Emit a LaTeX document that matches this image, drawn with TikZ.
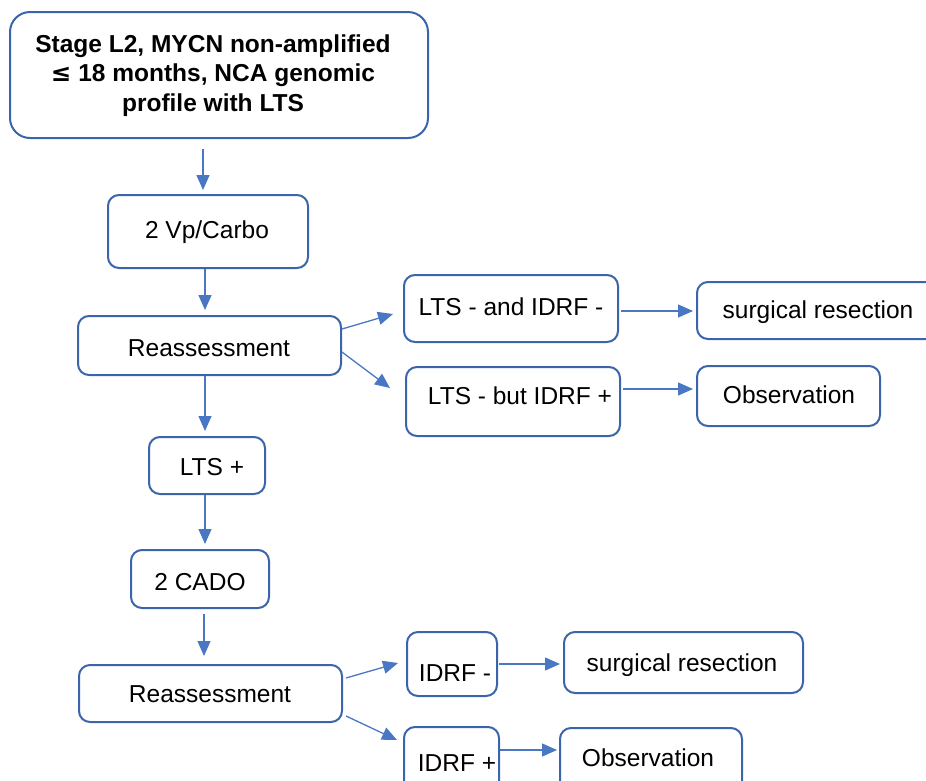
\documentclass[tikz,border=0pt]{standalone}
\usepackage{fontspec}
\setmainfont{Liberation Sans}
\newfontfamily\symfont{DejaVu Sans}
\usetikzlibrary{arrows.meta,calc}
\definecolor{boxblue}{HTML}{3B64AA}
\definecolor{arrblue}{HTML}{4A77C4}
\begin{document}
\begin{tikzpicture}[x=1pt,y=-1pt,
  box/.style={draw=boxblue,line width=2pt,rounded corners=11pt,inner sep=0pt},
  txt/.style={font=\fontsize{24.5}{29.5}\selectfont,inner sep=0pt,align=center,text=black},
  arr/.style={draw=arrblue,line width=1.3pt,-{Triangle[length=15pt,width=13pt]}}]
\useasboundingbox (0,0) rectangle (926,780);
\clip (0,0) rectangle (926,780);
% boxes
\node[box,rounded corners=20pt,minimum width=418pt,minimum height=126pt] (title) at (219,75) {};
\node[txt,font=\fontsize{24.5}{29.5}\selectfont\bfseries] (titlet) at (213,75.5) {Stage L2, MYCN non-amplified\\{\symfont ≤} 18 months, NCA genomic\\profile with LTS};
\node[box,minimum width=200pt,minimum height=73pt] (vp) at (208,231.5) {};
\node[txt] (vpt) at (207,232) {2 Vp/Carbo};
\node[box,minimum width=263pt,minimum height=59pt] (reas1) at (209.5,345.5) {};
\node[txt] (reas1t) at (209,348) {Reassessment};
\node[box,minimum width=214pt,minimum height=67pt] (ltsA) at (511,308.5) {};
\node[txt] (ltsAt) at (511,307) {LTS - and IDRF -};
\node[box,minimum width=243pt,minimum height=57pt] (surg1) at (818.5,310.5) {};
\node[txt] (surg1t) at (818,312) {surgical resection};
\node[box,minimum width=214pt,minimum height=69pt] (ltsB) at (513,401.5) {};
\node[txt] (ltsBt) at (520,396) {LTS - but IDRF +};
\node[box,minimum width=183pt,minimum height=60pt] (obs1) at (788.5,396) {};
\node[txt] (obs1t) at (789,395) {Observation};
\node[box,minimum width=116pt,minimum height=57pt] (ltsp) at (207,465.5) {};
\node[txt] (ltspt) at (212,467) {LTS +};
\node[box,minimum width=138pt,minimum height=58pt] (cado) at (200,579) {};
\node[txt] (cadot) at (200,582) {2 CADO};
\node[box,minimum width=263pt,minimum height=57pt] (reas2) at (210.5,693.5) {};
\node[txt] (reas2t) at (210,694) {Reassessment};
\node[box,minimum width=90pt,minimum height=64pt] (idrfm) at (452,664) {};
\node[txt] (idrfmt) at (455,673) {IDRF -};
\node[box,minimum width=239pt,minimum height=61pt] (surg2) at (683.5,662.5) {};
\node[txt] (surg2t) at (682,665) {surgical resection};
\node[box,minimum width=95pt,minimum height=73pt] (idrfp) at (451.5,763.5) {};
\node[txt] (idrfpt) at (457,763) {IDRF +};
\node[box,minimum width=182pt,minimum height=72pt] (obs2) at (651,764) {};
\node[txt] (obs2t) at (648,758) {Observation};
% arrows
\draw[arr] ($(title.south)+(-16,10)$) -- ($(vp.north)+(-5,-4)$);
\draw[arr] ($(vp.south)+(-3,0)$) -- ($(reas1.north)+(-4.5,-5)$);
\draw[arr] ($(reas1.east)+(0,-16.5)$) -- ($(ltsA.west)+(-10,5.5)$);
\draw[arr] ($(reas1.east)+(0,6.5)$) -- ($(ltsB.west)+(-15,-13.5)$);
\draw[arr] ($(ltsA.east)+(2,2.5)$) -- ($(surg1.west)+(-3,0.5)$);
\draw[arr] ($(ltsB.east)+(2,-12.5)$) -- ($(obs1.west)+(-3,-7)$);
\draw[arr] ($(reas1.south)+(-4.5,0)$) -- ($(ltsp.north)+(-2,-5)$);
\draw[arr] ($(ltsp.south)+(-2,0)$) -- ($(cado.north)+(5,-5)$);
\draw[arr] ($(cado.south)+(4,5)$) -- ($(reas2.north)+(-6.5,-8)$);
\draw[arr] ($(reas2.east)+(3,-15.5)$) -- ($(idrfm.west)+(-8,-1)$);
\draw[arr] ($(reas2.east)+(3,22.5)$) -- ($(idrfp.west)+(-6,-23.5)$);
\draw[arr] ($(idrfm.east)+(1,0)$) -- ($(surg2.west)+(-3,1.5)$);
\draw[arr] ($(idrfp.east)+(0,-13.5)$) -- ($(obs2.west)+(-2,-14)$);
\end{tikzpicture}
\end{document}
